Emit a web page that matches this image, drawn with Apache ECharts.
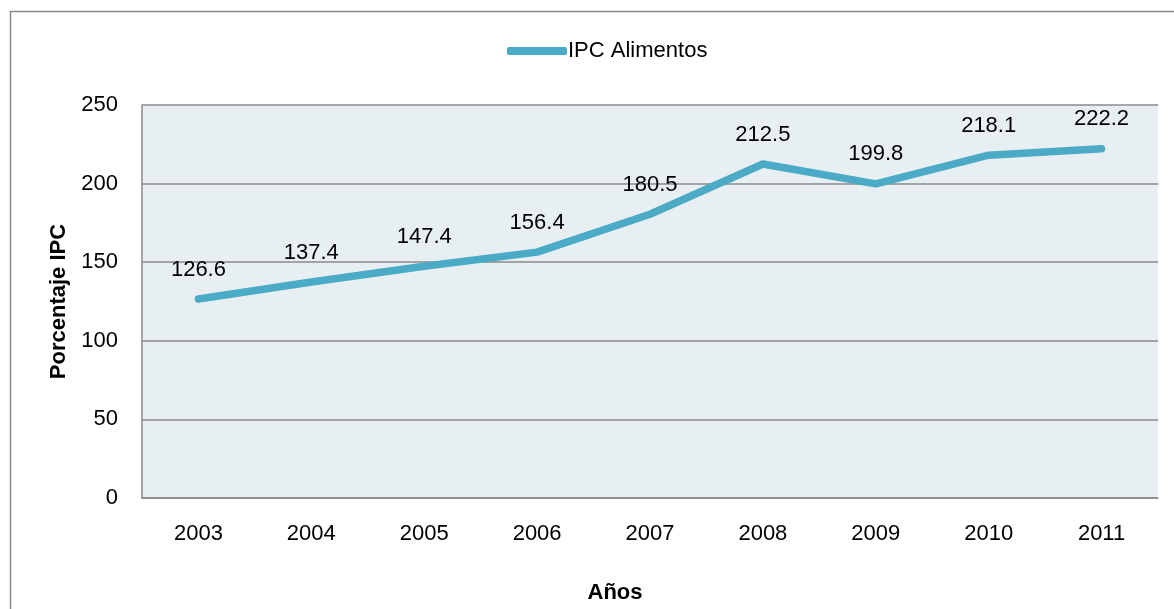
<!DOCTYPE html>
<html>
<head>
<meta charset="utf-8">
<script src="https://cdn.jsdelivr.net/npm/echarts@6/dist/echarts.min.js"></script>
<style>
  html, body { margin: 0; padding: 0; background: #fff; }
  #chart { width: 1174px; height: 609px; }
</style>
</head>
<body>
<div id="chart"></div>
<script>
const years = ['2003', '2004', '2005', '2006', '2007', '2008', '2009', '2010', '2011']
const ipcAlimentos = [126.6, 137.4, 147.4, 156.4, 180.5, 212.5, 199.8, 218.1, 222.2]

const font = "'Liberation Sans', Arial, sans-serif"
const lineColor = '#4BABC6'

const chart = echarts.init(document.getElementById('chart'))
chart.setOption({
  animation: false,
  textStyle: { fontFamily: font },
  graphic: [{
    type: 'rect',
    shape: { x: 10.5, y: 11.5, width: 1300, height: 700 },
    style: { fill: 'none', stroke: '#8a8a8a', lineWidth: 1.5 },
    silent: true
  }],
  legend: {
    top: 35,
    left: 502,
    itemWidth: 60,
    itemHeight: 8,
    itemGap: 0,
    icon: 'roundRect',
    textStyle: { fontFamily: font, fontSize: 22, color: '#000', padding: [0, 0, 0, -4] },
    data: ['IPC Alimentos']
  },
  grid: {
    left: 142, top: 105, width: 1016, height: 397,
    show: true, backgroundColor: '#E8EFF3', borderWidth: 0
  },
  xAxis: {
    type: 'category',
    data: years,
    name: 'Años',
    nameLocation: 'middle',
    nameGap: 84,
    nameTextStyle: { fontFamily: font, fontSize: 22, fontWeight: 'bold', color: '#000', padding: [0, 70, 0, 0] },
    axisLine: { lineStyle: { color: '#8a8a8a', width: 1.5 } },
    axisTick: { show: false },
    axisLabel: { fontFamily: font, fontSize: 22, color: '#000', margin: 25 }
  },
  yAxis: {
    type: 'value',
    min: 0, max: 250, interval: 50,
    name: 'Porcentaje IPC',
    nameLocation: 'middle',
    nameGap: 64,
    nameTextStyle: { fontFamily: font, fontSize: 22, fontWeight: 'bold', color: '#000' },
    axisLine: { show: true, lineStyle: { color: '#8a8a8a', width: 1.5 } },
    axisTick: { show: false },
    axisLabel: { fontFamily: font, fontSize: 22, color: '#000', margin: 24 },
    splitLine: { lineStyle: { color: '#8a8a8a', width: 1.5 } }
  },
  series: [{
    name: 'IPC Alimentos',
    type: 'line',
    data: ipcAlimentos,
    symbol: 'circle',
    symbolSize: 1,
    showSymbol: true,
    lineStyle: { color: lineColor, width: 7.5, cap: 'round', join: 'round' },
    itemStyle: { color: lineColor },
    label: {
      show: true,
      position: 'top',
      distance: 18,
      fontFamily: font,
      fontSize: 22,
      color: '#000'
    }
  }]
})
</script>
</body>
</html>
